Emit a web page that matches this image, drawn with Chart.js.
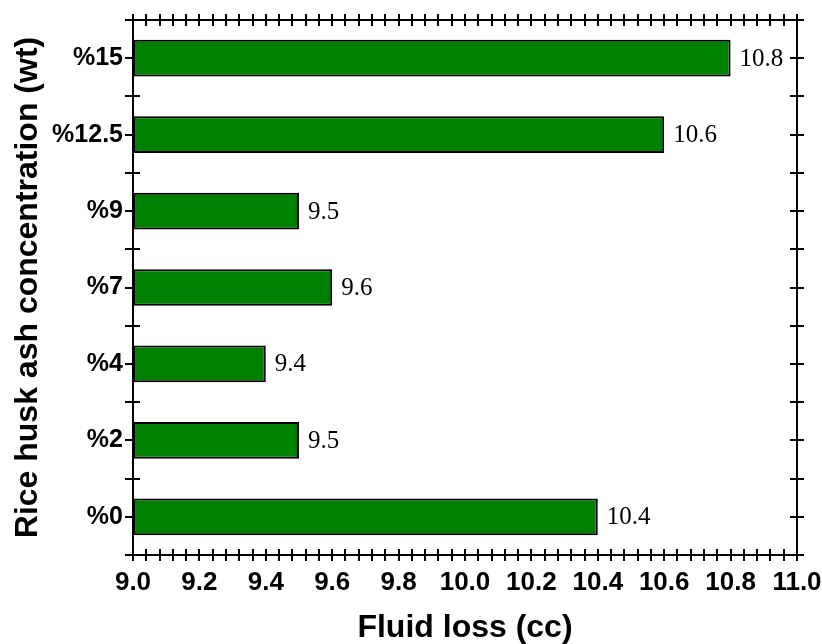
<!DOCTYPE html>
<html>
<head>
<meta charset="utf-8">
<script src="https://cdn.jsdelivr.net/npm/chart.js@4/dist/chart.umd.min.js"></script>
<style>
  html, body { margin: 0; padding: 0; background: #ffffff; }
  #wrap { width: 822px; height: 644px; }
</style>
</head>
<body>
<div id="wrap"><canvas id="c" width="822" height="644"></canvas></div>
<script>
// ---- data ----
const categories = ['%15', '%12.5', '%9', '%7', '%4', '%2', '%0'];
const fluidLoss = [10.8, 10.6, 9.5, 9.6, 9.4, 9.5, 10.4];
const xMin = 9.0;
const xMax = 11.0;
const xMajorStep = 0.2;
const xMinorStep = 0.04;
const xTitle = 'Fluid loss (cc)';
const yTitle = 'Rice husk ash concentration (wt)';

const axisPlugin = {
  id: 'frameAxes',
  beforeDatasetsDraw(chart) {
    const { ctx, chartArea: a, scales } = chart;
    const xs = scales.x, ys = scales.y;
    ctx.save();
    ctx.strokeStyle = '#000';
    ctx.lineWidth = 2;
    ctx.beginPath();
    ctx.rect(a.left, a.top, a.right - a.left, a.bottom - a.top);
    ctx.stroke();
    ctx.beginPath();
    const n = Math.round((xMax - xMin) / xMinorStep);
    for (let i = 0; i <= n; i++) {
      const px = Math.round(xs.getPixelForValue(xMin + i * xMinorStep));
      ctx.moveTo(px, a.bottom - 6); ctx.lineTo(px, a.bottom + 6);
      ctx.moveTo(px, a.top - 6); ctx.lineTo(px, a.top + 6);
    }
    for (let i = 0; i <= categories.length; i++) {
      const py = Math.round(ys.getPixelForValue(i - 0.5));
      ctx.moveTo(a.left - 8, py); ctx.lineTo(a.left + 7, py);
      ctx.moveTo(a.right - 7, py); ctx.lineTo(a.right + 7, py);
    }
    for (let i = 0; i < categories.length; i++) {
      const py = Math.round(ys.getPixelForValue(i));
      ctx.moveTo(a.left - 8, py); ctx.lineTo(a.left, py);
      ctx.moveTo(a.right - 7, py); ctx.lineTo(a.right + 7, py);
    }
    ctx.stroke();
    ctx.restore();
  },
  afterDatasetsDraw(chart) {
    const { ctx } = chart;
    const meta = chart.getDatasetMeta(0);
    ctx.save();
    ctx.fillStyle = '#000';
    ctx.font = '25px "Liberation Serif", "Times New Roman", serif';
    ctx.textAlign = 'left';
    ctx.textBaseline = 'middle';
    meta.data.forEach((el, i) => {
      ctx.fillText(fluidLoss[i].toFixed(1), el.x + 9, el.y + 1);
    });
    ctx.restore();
  }
};

new Chart(document.getElementById('c'), {
  type: 'bar',
  data: {
    labels: categories,
    datasets: [{
      data: fluidLoss,
      base: xMin,
      backgroundColor: '#008000',
      borderColor: '#000000',
      borderWidth: 2,
      borderSkipped: false,
      categoryPercentage: 1.0,
      barPercentage: 0.48
    }]
  },
  options: {
    indexAxis: 'y',
    responsive: false,
    animation: false,
    layout: { padding: { top: 20, right: 25, left: 0, bottom: 0 } },
    plugins: { legend: { display: false }, tooltip: { enabled: false } },
    scales: {
      x: {
        type: 'linear',
        min: xMin,
        max: xMax,
        afterFit(s) { s.height = 89; s.paddingLeft = 0; s.paddingRight = 0; },
        border: { display: false },
        grid: { display: false, drawTicks: false },
        ticks: {
          stepSize: xMajorStep,
          autoSkip: false,
          maxRotation: 0,
          padding: 12,
          color: '#000',
          font: { family: '"Liberation Sans", Arial, sans-serif', size: 26, weight: 'bold' },
          callback: (v) => Number(v).toFixed(1)
        },
        title: {
          display: true,
          text: xTitle,
          color: '#000',
          font: { family: '"Liberation Sans", Arial, sans-serif', size: 32, weight: 'bold', lineHeight: 1 },
          padding: { top: 0, bottom: 0 }
        }
      },
      y: {
        type: 'category',
        afterFit(s) { s.width = 133; s.paddingTop = 0; s.paddingBottom = 0; },
        border: { display: false },
        grid: { display: false, drawTicks: false },
        ticks: {
          padding: 10,
          color: '#000',
          font: { family: '"Liberation Sans", Arial, sans-serif', size: 25, weight: 'bold' }
        },
        title: {
          display: true,
          text: yTitle,
          color: '#000',
          font: { family: '"Liberation Sans", Arial, sans-serif', size: 32, weight: 'bold', lineHeight: 1 },
          padding: { top: 12, bottom: 0 }
        }
      }
    }
  },
  plugins: [axisPlugin]
});
</script>
</body>
</html>
